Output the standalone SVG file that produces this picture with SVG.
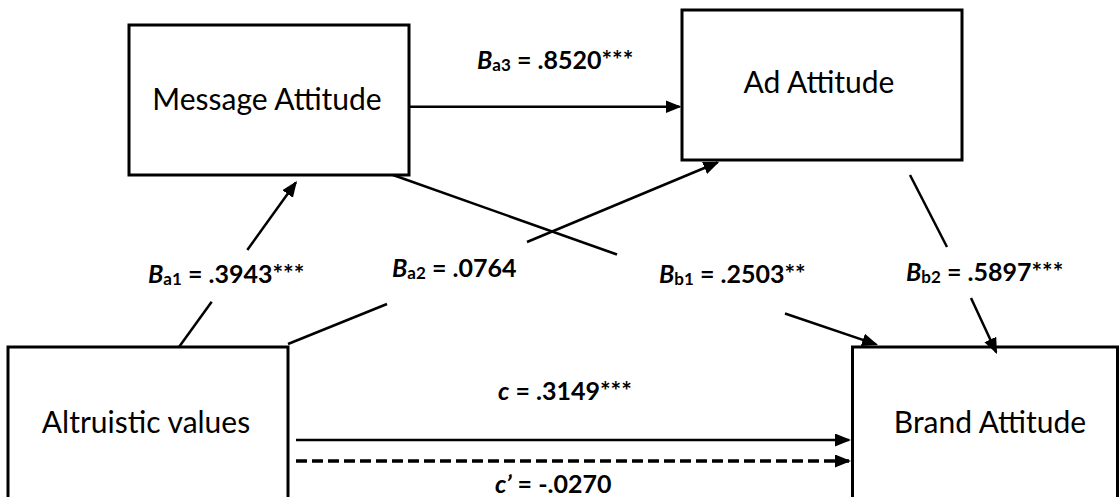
<svg xmlns="http://www.w3.org/2000/svg" width="1120" height="497" viewBox="0 0 1120 497">
  <style>
    .box { fill: #ffffff; stroke: #000000; stroke-width: 3; }
    .name { font-family: Lato, "Liberation Sans", sans-serif; font-size: 30px; fill: #000000; text-anchor: middle; }
    .lbl { font-family: Lato, "Liberation Sans", sans-serif; font-size: 25px; font-weight: bold; fill: #000000; }
    .sub { font-size: 17px; font-style: normal; }
    .it { font-style: italic; }
    .edge { fill: none; stroke: #000000; stroke-width: 2.5; }
    .dash { fill: none; stroke: #000000; stroke-width: 3.5; stroke-dasharray: 11 5; }
  </style>
  <defs>
    <marker id="arrow" markerUnits="userSpaceOnUse" markerWidth="16" markerHeight="14" refX="14" refY="6.5" orient="auto">
      <path d="M0,0 L16,6.5 L0,13 z" fill="#000000" stroke="none"/>
    </marker>
  </defs>

  <rect width="1120" height="497" fill="#ffffff"/>

  <!-- variables -->
  <g id="message-attitude">
    <rect class="box" x="129" y="25" width="280" height="150"/>
    <text class="name" x="267" y="110">Message Attitude</text>
  </g>
  <g id="ad-attitude">
    <rect class="box" x="682" y="10" width="280" height="150"/>
    <text class="name" x="819" y="93">Ad Attitude</text>
  </g>
  <g id="altruistic-values">
    <rect class="box" x="8" y="347" width="280" height="160"/>
    <text class="name" x="146" y="433">Altruistic values</text>
  </g>
  <g id="brand-attitude">
    <rect class="box" x="852.5" y="347" width="265" height="160"/>
    <text class="name" x="990" y="433">Brand Attitude</text>
  </g>

  <!-- paths, broken where the coefficients sit -->
  <g id="connectors">
    <!-- a1: altruistic values -> message attitude -->
    <line class="edge" x1="179" y1="347" x2="211.7" y2="301.7"/>
    <line class="edge" x1="247.3" y1="250" x2="295.8" y2="182.6" marker-end="url(#arrow)"/>
    <!-- a2: altruistic values -> ad attitude -->
    <line class="edge" x1="288" y1="344" x2="387" y2="304"/>
    <line class="edge" x1="527" y1="242" x2="717.5" y2="162.5" marker-end="url(#arrow)"/>
    <!-- a3: message attitude -> ad attitude -->
    <line class="edge" x1="410" y1="106.7" x2="679.5" y2="106.7" marker-end="url(#arrow)"/>
    <!-- b1: message attitude -> brand attitude -->
    <line class="edge" x1="393" y1="175" x2="617" y2="254.5"/>
    <line class="edge" x1="785" y1="313.5" x2="876.1" y2="344.4" marker-end="url(#arrow)"/>
    <!-- b2: ad attitude -> brand attitude -->
    <line class="edge" x1="910" y1="175" x2="947" y2="247"/>
    <line class="edge" x1="971" y1="298" x2="996.2" y2="352.2" marker-end="url(#arrow)"/>
    <!-- c: total effect, c': direct effect -->
    <line class="edge" x1="296" y1="440" x2="849" y2="440" marker-end="url(#arrow)"/>
    <line class="dash" x1="296" y1="461" x2="849" y2="461" marker-end="url(#arrow)"/>
  </g>

  <!-- coefficients -->
  <g id="labels">
    <text class="lbl" x="477" y="69"><tspan class="it">B</tspan><tspan class="sub" dy="2">a3</tspan><tspan dy="-2"> = .8520***</tspan></text>
    <text class="lbl" x="148" y="283"><tspan class="it">B</tspan><tspan class="sub" dy="2">a1</tspan><tspan dy="-2"> = .3943***</tspan></text>
    <text class="lbl" x="392" y="277"><tspan class="it">B</tspan><tspan class="sub" dy="2">a2</tspan><tspan dy="-2"> = .0764</tspan></text>
    <text class="lbl" x="659" y="283"><tspan class="it">B</tspan><tspan class="sub" dy="2">b1</tspan><tspan dy="-2"> = .2503**</tspan></text>
    <text class="lbl" x="906" y="281"><tspan class="it">B</tspan><tspan class="sub" dy="2">b2</tspan><tspan dy="-2"> = .5897***</tspan></text>
    <text class="lbl" x="498" y="400"><tspan class="it">c</tspan> = .3149***</text>
    <text class="lbl" x="495" y="493"><tspan class="it">c’</tspan> = -.0270</text>
  </g>
</svg>
